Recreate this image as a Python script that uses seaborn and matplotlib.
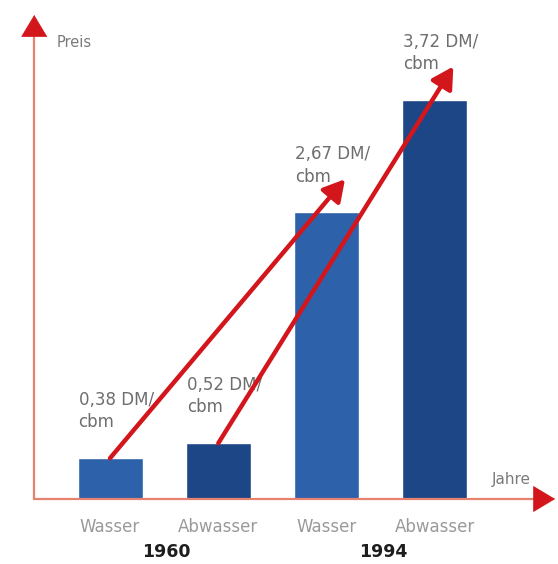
import matplotlib
matplotlib.use("Agg")
import matplotlib.pyplot as plt
import seaborn as sns
import pandas as pd

# Wasserpreise in DM pro Kubikmeter
jahre = ["1960", "1960", "1994", "1994"]
arten = ["Wasser", "Abwasser", "Wasser", "Abwasser"]
preise = [0.38, 0.52, 2.67, 3.72]
beschriftungen = ["0,38 DM/\ncbm", "0,52 DM/\ncbm", "2,67 DM/\ncbm", "3,72 DM/\ncbm"]
jahr_labels = ["1960", "1994"]

df = pd.DataFrame({
    "balken": [f"{a}_{j}" for a, j in zip(arten, jahre)],
    "art": arten,
    "preis": preise,
})

sns.set_theme(style="white")
plt.rcParams["font.family"] = ["DejaVu Sans"]

fig = plt.figure(figsize=(5.58, 5.64), dpi=100)
ax = fig.add_axes([0.0, 65 / 564, 1.0, 499 / 564])

farben = {"Wasser": "#2d62ab", "Abwasser": "#1d4686"}
sns.barplot(data=df, x="balken", y="preis", hue="art", palette=farben,
            dodge=False, width=0.6, legend=False, ax=ax, saturation=1)

ax.set_xlim(-1.016, 4.137)
ax.set_ylim(0, 4.65)
for s in ax.spines.values():
    s.set_visible(False)
ax.set_yticks([])
ax.set_xlabel("")
ax.set_ylabel("")
ax.set_xticks(range(len(arten)))
ax.set_xticklabels(arten, color="#9a9a9a", fontsize=12)
ax.tick_params(axis="x", length=0, pad=14)

rot = "#d3151c"
achse = "#e6826f"

# Achsen: helle Linie, dunkelrote Pfeilspitze
x0 = -0.70
ax.plot([x0, x0], [-0.01, 4.40], color=achse, lw=1.6, solid_capstyle="butt", clip_on=False)
ax.plot([x0 - 0.01, 4.0], [0, 0], color=achse, lw=1.6, solid_capstyle="butt", clip_on=False)
kopf = dict(arrowstyle="-|>,head_length=0.75,head_width=0.45", color=rot,
            lw=0.5, mutation_scale=20, shrinkA=0, shrinkB=0)
ax.annotate("", xy=(x0, 4.51), xytext=(x0, 4.33), arrowprops=kopf, annotation_clip=False)
ax.annotate("", xy=(4.11, 0), xytext=(3.94, 0), arrowprops=kopf, annotation_clip=False)

ax.text(-0.49, 4.25, "Preis", color="#7a7a7a", fontsize=10.5, va="center", ha="left")
ax.text(3.53, 0.18, "Jahre", color="#7a7a7a", fontsize=11, va="center", ha="left")

# Preisangaben über den Balken
for i, (p, txt) in enumerate(zip(preise, beschriftungen)):
    ax.annotate(txt, xy=(i - 0.3, p), xytext=(1, 47), textcoords="offset pixels",
                ha="left", va="center", fontsize=12, color="#6e6e6e",
                linespacing=1.3)

# Rote Pfeile von 1960 zu 1994
for i in range(2):
    ax.annotate("", xy=(i + 2 + 0.17, preise[i + 2] + 0.31), xytext=(i, preise[i]),
                arrowprops=dict(arrowstyle="-|>,head_length=0.8,head_width=0.45",
                                color=rot, lw=3.2, mutation_scale=16,
                                shrinkA=0, shrinkB=0))

# Jahreszahlen unter den Gruppen
for k, j in enumerate(jahr_labels):
    ax.text(2 * k + 0.5 + 0.02, -0.49, j, ha="center", va="center",
            fontsize=12.5, fontweight="bold", color="#1e1e1e",
            transform=ax.transData, clip_on=False)

fig.savefig("out.png", dpi=100, facecolor="white")
